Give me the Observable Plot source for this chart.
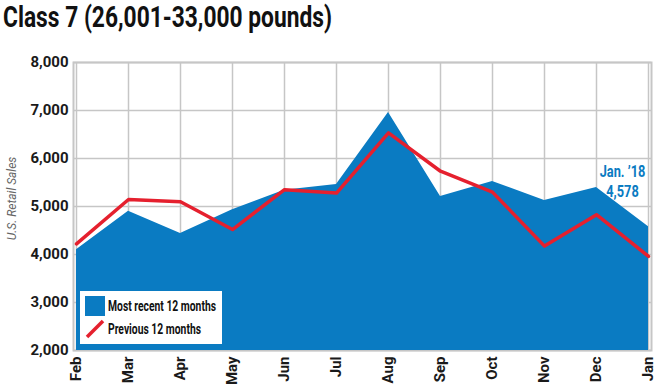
<!DOCTYPE html>
<html>
<head>
<meta charset="utf-8">
<script src="https://cdn.jsdelivr.net/npm/d3@7"></script>
<script src="https://cdn.jsdelivr.net/npm/@observablehq/plot@0.6"></script>
<style>
  html, body { margin: 0; padding: 0; background: #fff; }
  #wrap { position: relative; width: 660px; height: 385px; overflow: hidden; }
  #title { height: 40px; font-family: Roboto, "Liberation Sans", sans-serif; font-weight: bold; font-size: 30px; color: #111; line-height: 33px; padding-left: 3px; white-space: nowrap; }
  #title span { display: inline-block; transform-origin: 0 0; }
  #legend { position: absolute; left: 80px; top: 291px; width: 142px; height: 53px; background: #fff; font-family: Roboto, "Liberation Sans", sans-serif; font-weight: bold; font-size: 14px; color: #111; }
  .row { position: absolute; left: 5px; height: 20px; display: flex; align-items: center; white-space: nowrap; }
  .row span { display: inline-block; transform-origin: 0 50%; }
</style>
</head>
<body>
<div id="wrap">
  <div id="title"><span>Class 7 (26,001-33,000 pounds)</span></div>
  <div id="chart"></div>
  <div id="legend"></div>
</div>
<script>
const months = ["Feb","Mar","Apr","May","Jun","Jul","Aug","Sep","Oct","Nov","Dec","Jan"];
const recent12 = [4100, 4900, 4440, 4930, 5340, 5460, 6960, 5210, 5520, 5125, 5395, 4578];
const previous12 = [4220, 5145, 5100, 4520, 5350, 5280, 6535, 5735, 5300, 4175, 4830, 3960];
const yTicks = [2000, 3000, 4000, 5000, 6000, 7000, 8000];
const seriesNames = ["Most recent 12 months", "Previous 12 months"];
const yAxisLabel = "U.S. Retail Sales";
const annotationLabel = "Jan. \u201918\n4,578";

const blue = "#0a7bc2";
const red = "#e5202e";
const font = 'Roboto, "Liberation Sans", sans-serif';

const recentData = months.map((m, i) => ({month: m, value: recent12[i]}));
const prevData = months.map((m, i) => ({month: m, value: previous12[i]}));
const lastIdx = months.length - 1;
const annData = [{month: months[lastIdx], value: recent12[lastIdx], label: annotationLabel}];

const chart = Plot.plot({
  width: 660,
  height: 345,
  marginTop: 22,
  marginBottom: 35,
  marginLeft: 73,
  marginRight: 9,
  style: {fontFamily: font, background: "transparent", overflow: "visible"},
  x: {type: "point", domain: months, padding: 0, label: null},
  y: {domain: [yTicks[0], yTicks[yTicks.length - 1]], ticks: yTicks, label: null},
  marks: [
    Plot.gridY(yTicks, {stroke: "#c6c6c6", strokeOpacity: 1, strokeWidth: 1.5}),
    Plot.gridX(months, {stroke: "#c6c6c6", strokeOpacity: 1, strokeWidth: 1.5}),
    Plot.frame({stroke: "#c6c6c6", strokeWidth: 2}),
    Plot.areaY(recentData, {x: "month", y1: yTicks[0], y2: "value", fill: blue, fillOpacity: 1, curve: "linear"}),
    Plot.lineY(prevData, {x: "month", y: "value", stroke: red, strokeWidth: 3.5, curve: "linear"}),
    Plot.text(annData, {x: "month", y: "value", text: "label", dx: -26, dy: -50, fill: blue, fontWeight: "bold", fontSize: 16, lineHeight: 1.25, textAnchor: "middle", ariaDescription: "annotation"}),
    Plot.axisY(yTicks, {tickSize: 0, tickPadding: 5, tickFormat: d3.format(","), fontSize: 15, fontWeight: "bold", fill: "#1a1a1a", label: null}),
    Plot.axisX(months, {tickSize: 0, tickPadding: 6, tickRotate: -90, fontSize: 15, fontWeight: "bold", fill: "#1a1a1a", label: null}),
    Plot.text([yAxisLabel], {frameAnchor: "left", dx: -58, dy: -8, rotate: -90, textAnchor: "middle", fontStyle: "italic", fill: "#666", fontSize: 13, text: d => d, ariaDescription: "ylabel"})
  ]
});
document.getElementById("chart").appendChild(chart);

// condense text along its baseline (the reference uses a condensed face)
function condense(el, s) {
  const x = +el.getAttribute("x") || 0, y = +el.getAttribute("y") || 0;
  const t = el.getAttribute("transform") || "";
  el.setAttribute("transform", `${t} translate(${x},${y}) scale(${s},1)`);
  el.removeAttribute("x"); el.removeAttribute("y");
  el.querySelectorAll("tspan").forEach(ts => {
    if (ts.hasAttribute("x")) ts.setAttribute("x", (+ts.getAttribute("x") || 0) - x);
    if (ts.hasAttribute("y")) ts.setAttribute("y", (+ts.getAttribute("y") || 0) - y);
  });
}
chart.querySelectorAll('g[aria-description="annotation"] text').forEach(el => condense(el, 0.8));
chart.querySelectorAll('g[aria-description="ylabel"] text').forEach(el => condense(el, 0.92));

// title: condensed to the reference's width
const tspan = document.querySelector("#title span");
const tw = tspan.getBoundingClientRect().width;
tspan.style.transform = `scaleX(${329 / tw})`;

const legend = document.getElementById("legend");
legend.innerHTML = `
  <div class="row" style="top:5px;"><svg width="20" height="20" style="margin-right:3px;flex:none"><rect width="20" height="20" fill="${blue}"/></svg><span>${seriesNames[0]}</span></div>
  <div class="row" style="top:28px;"><svg width="20" height="20" style="margin-right:3px;flex:none"><line x1="2" y1="18" x2="18" y2="2" stroke="${red}" stroke-width="3.5"/></svg><span>${seriesNames[1]}</span></div>
`;
const targets = [108, 93];
legend.querySelectorAll(".row span").forEach((sp, i) => {
  const w = sp.getBoundingClientRect().width;
  sp.style.transform = `scaleX(${targets[i] / w})`;
});
</script>
</body>
</html>
